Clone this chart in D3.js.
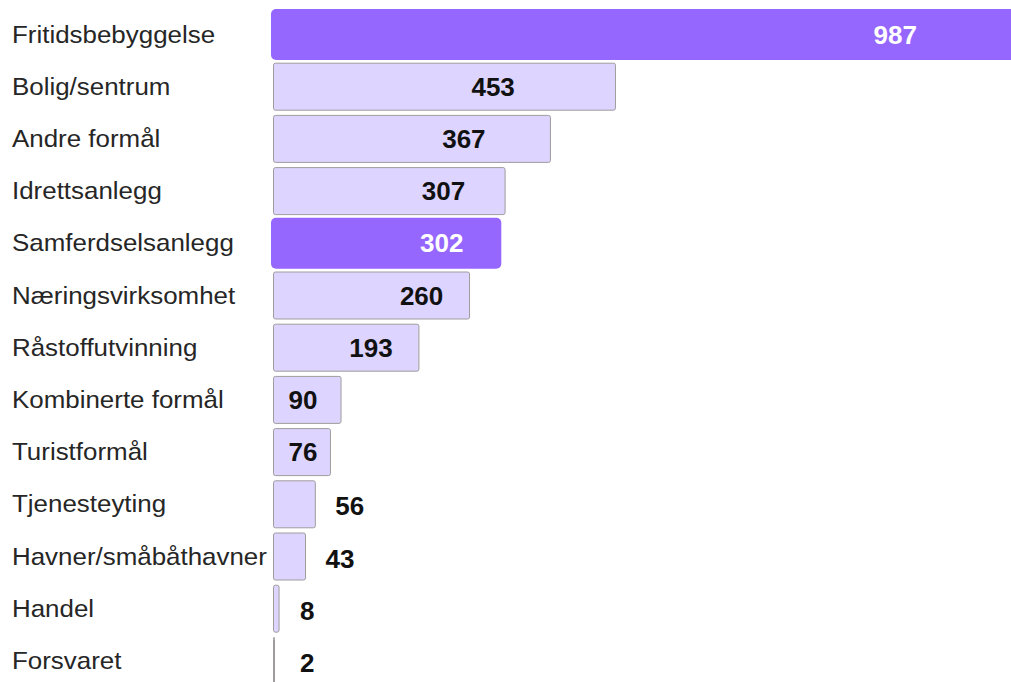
<!DOCTYPE html>
<html>
<head>
<meta charset="utf-8">
<script src="https://cdn.jsdelivr.net/npm/d3@7"></script>
<style>
  html, body { margin: 0; padding: 0; background: #fff; }
  svg { display: block; }
</style>
</head>
<body>
<div id="chart"></div>
<script>
const categories = ["Fritidsbebyggelse", "Bolig/sentrum", "Andre formål", "Idrettsanlegg", "Samferdselsanlegg",
  "Næringsvirksomhet", "Råstoffutvinning", "Kombinerte formål", "Turistformål", "Tjenesteyting",
  "Havner/småbåthavner", "Handel", "Forsvaret"];
const values = [987, 453, 367, 307, 302, 260, 193, 90, 76, 56, 43, 8, 2];
const highlighted = ["Fritidsbebyggelse", "Samferdselsanlegg"];

const W = 1011, H = 682;
const data = categories.map((c, i) => ({ cat: c, v: values[i], hi: highlighted.includes(c) }));

const svg = d3.select("#chart").append("svg").attr("width", W).attr("height", H);

const x = d3.scaleLinear().domain([0, 987]).range([273, 273 + 987 * 0.756]);
const y = d3.scaleBand().domain(categories).range([8.4, 8.4 + 13 * 52.2]).padding(0);

const SX = 1.08;
const fontFam = "'Liberation Sans', Arial, Helvetica, sans-serif";

// category labels
svg.append("g").selectAll("text").data(data).join("text")
  .attr("transform", d => `translate(12,${y(d.cat) + y.bandwidth() / 2 + 8}) scale(${SX},1)`)
  .attr("font-family", fontFam).attr("font-size", 24).attr("fill", "#262626")
  .text(d => d.cat);

// bars
const bars = svg.append("g");
bars.selectAll("rect").data(data).join("rect")
  .attr("x", d => d.hi ? x(0) - 2 : x(0) + 0.5)
  .attr("y", d => y(d.cat) + y.bandwidth() / 2 - (d.hi ? 25.5 : 23.5))
  .attr("width", d => Math.max(0.5, x(d.v) - x(0) + (d.hi ? 2 : -0.5)))
  .attr("height", d => d.hi ? 51 : 47)
  .attr("rx", d => d.hi ? 5 : 2)
  .attr("fill", d => d.hi ? "#9667ff" : "#ddd5ff")
  .attr("stroke", d => d.hi ? "none" : "#a09c9c")
  .attr("stroke-width", 1);

// value labels
function labelPos(d) {
  const x0 = x(0), end = x(d.v), w = end - x0;
  if (w >= 100) return { cx: end - Math.min(124, Math.max(48, 0.55 * (w - 120))), anchor: "middle" };
  if (w >= 50) return { cx: x0 + 30, anchor: "middle" };
  return { cx: Math.max(end + 20, x0 + 27), anchor: "start" };
}
svg.append("g").selectAll("text").data(data).join("text")
  .attr("transform", d => {
    const p = labelPos(d);
    const w = x(d.v) - x(0);
    const dy = w < 50 ? 11 : 9;
    return `translate(${p.cx},${y(d.cat) + y.bandwidth() / 2 + dy}) scale(1.04,1)`;
  })
  .attr("text-anchor", d => labelPos(d).anchor)
  .attr("font-family", fontFam).attr("font-size", 25).attr("font-weight", "bold")
  .attr("fill", d => d.hi ? "#ffffff" : "#111")
  .text(d => d.v);
</script>
</body>
</html>
